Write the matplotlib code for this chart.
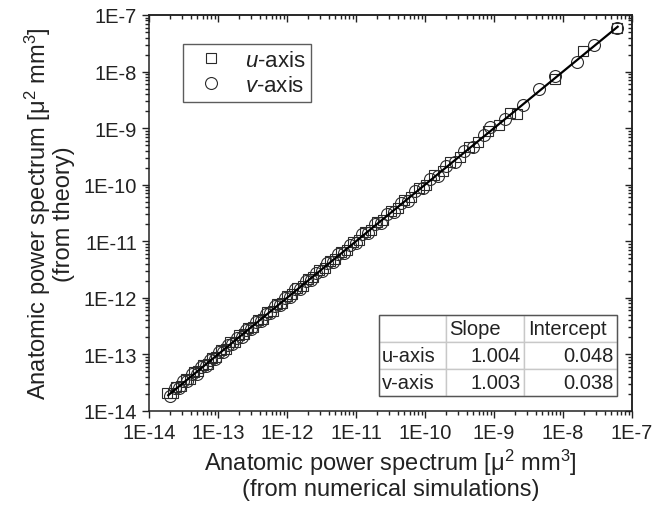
import matplotlib
matplotlib.use("Agg")
import matplotlib.pyplot as plt
from matplotlib.table import Table
from matplotlib.patches import Rectangle
from matplotlib.ticker import LogLocator, FixedLocator, FixedFormatter, NullFormatter

plt.rcParams['font.family'] = ['Liberation Sans', 'DejaVu Sans']
plt.rcParams['mathtext.fontset'] = 'custom'
plt.rcParams['mathtext.rm'] = 'Liberation Sans'
plt.rcParams['mathtext.it'] = 'Liberation Sans:italic'

# ---- data ----
u_sim = [1.8e-14, 2.2e-14, 2.5e-14, 2.95e-14, 3.4e-14, 3.9e-14, 4.5e-14, 5.2e-14, 6.0e-14, 7.1e-14,
         8.1e-14, 9.5e-14, 1.1e-13, 1.3e-13, 1.5e-13, 1.75e-13, 2.0e-13, 2.35e-13, 2.75e-13, 3.2e-13,
         3.8e-13, 4.5e-13, 5.2e-13, 6.2e-13, 7.2e-13, 8.5e-13, 1.0e-12, 1.2e-12, 1.4e-12, 1.7e-12,
         2.0e-12, 2.4e-12, 2.9e-12, 3.5e-12, 4.2e-12, 5.0e-12, 6.0e-12, 7.4e-12, 8.9e-12, 1.1e-11,
         1.35e-11, 1.65e-11, 2.0e-11, 2.5e-11, 3.2e-11, 4.0e-11, 5.0e-11, 6.3e-11, 8.1e-11, 1.05e-10,
         1.35e-10, 1.8e-10, 2.3e-10, 3.2e-10, 4.3e-10, 5.9e-10, 8.3e-10, 1.2e-9, 1.7e-9, 2.15e-9,
         7.6e-9, 1.95e-8, 6.0e-8]
u_theory = [2.05e-14, 2.1e-14, 2.7e-14, 2.8e-14, 3.7e-14, 3.7e-14, 4.9e-14, 5.0e-14, 6.5e-14, 6.8e-14,
            8.8e-14, 9.1e-14, 1.2e-13, 1.24e-13, 1.63e-13, 1.68e-13, 2.17e-13, 2.25e-13, 2.98e-13, 3.07e-13,
            4.1e-13, 4.3e-13, 5.65e-13, 5.95e-13, 7.8e-13, 8.2e-13, 1.08e-12, 1.15e-12, 1.52e-12, 1.63e-12,
            2.17e-12, 2.3e-12, 3.14e-12, 3.36e-12, 4.55e-12, 4.8e-12, 6.5e-12, 7.1e-12, 9.6e-12, 1.06e-11,
            1.46e-11, 1.58e-11, 2.17e-11, 2.4e-11, 3.46e-11, 3.84e-11, 5.4e-11, 6.05e-11, 8.75e-11, 1.0e-10,
            1.46e-10, 1.72e-10, 2.5e-10, 3.05e-10, 4.65e-10, 5.6e-10, 9.0e-10, 1.14e-9, 1.85e-9, 1.78e-9,
            7.4e-9, 2.3e-8, 5.9e-8]

v_sim = [2.0e-14, 2.35e-14, 2.75e-14, 3.15e-14, 3.6e-14, 4.2e-14, 4.9e-14, 5.6e-14, 6.6e-14, 7.6e-14,
         8.9e-14, 1.02e-13, 1.2e-13, 1.38e-13, 1.62e-13, 1.86e-13, 2.2e-13, 2.57e-13, 3.0e-13, 3.55e-13,
         4.2e-13, 4.9e-13, 5.75e-13, 6.8e-13, 7.9e-13, 9.3e-13, 1.1e-12, 1.32e-12, 1.55e-12, 1.86e-12,
         2.2e-12, 2.6e-12, 3.2e-12, 3.8e-12, 4.6e-12, 5.5e-12, 6.8e-12, 8.1e-12, 1.0e-11, 1.23e-11,
         1.5e-11, 1.86e-11, 2.3e-11, 2.8e-11, 3.55e-11, 4.5e-11, 5.6e-11, 7.2e-11, 9.3e-11, 1.2e-10,
         1.55e-10, 2.0e-10, 2.75e-10, 3.7e-10, 5.0e-10, 7.1e-10, 8.7e-10, 1.45e-9, 2.6e-9, 4.5e-9,
         7.6e-9, 1.6e-8, 2.8e-8, 6.0e-8]
v_theory = [1.87e-14, 2.5e-14, 2.57e-14, 3.37e-14, 3.35e-14, 4.5e-14, 4.55e-14, 6.0e-14, 6.15e-14, 8.1e-14,
            8.3e-14, 1.09e-13, 1.12e-13, 1.48e-13, 1.51e-13, 1.99e-13, 2.05e-13, 2.75e-13, 2.8e-13, 3.8e-13,
            3.9e-13, 5.25e-13, 5.35e-13, 7.3e-13, 7.35e-13, 9.95e-13, 1.02e-12, 1.41e-12, 1.44e-12, 1.99e-12,
            2.05e-12, 2.78e-12, 2.98e-12, 4.07e-12, 4.28e-12, 5.9e-12, 6.3e-12, 8.7e-12, 9.3e-12, 1.32e-11,
            1.4e-11, 1.99e-11, 2.14e-11, 3.0e-11, 3.3e-11, 4.8e-11, 5.2e-11, 7.7e-11, 8.65e-11, 1.28e-10,
            1.44e-10, 2.14e-10, 2.56e-10, 3.96e-10, 4.65e-10, 7.6e-10, 1.05e-9, 1.45e-9, 2.6e-9, 4.9e-9,
            8.3e-9, 1.5e-8, 2.95e-8, 5.9e-8]

fit_x = [1.9e-14, 6.2e-8]
fit_y = [1.9e-14, 6.2e-8]

tick_vals = [1e-14, 1e-13, 1e-12, 1e-11, 1e-10, 1e-9, 1e-8, 1e-7]
tick_labels = ["1E-14", "1E-13", "1E-12", "1E-11", "1E-10", "1E-9", "1E-8", "1E-7"]

table_cols = ["", "Slope", "Intercept"]
table_rows = ["u-axis", "v-axis"]
slopes = ["1.004", "1.003"]
intercepts = ["0.048", "0.038"]

# ---- figure ----
fig = plt.figure(figsize=(6.67, 5.06), dpi=100)
ax = fig.add_axes([0.2234, 0.1858, 0.7241, 0.7826])
ax.set_xscale('log')
ax.set_yscale('log')
ax.set_xlim(1e-14, 1e-7)
ax.set_ylim(1e-14, 1e-7)

mec = '#2a2a2a'
ax.plot(u_sim, u_theory, linestyle='none', marker='s', markersize=7.8, mfc='none',
        mec=mec, mew=0.8, label=r'$\mathit{u}$-axis', zorder=3)
ax.plot(v_sim, v_theory, linestyle='none', marker='o', markersize=8.6, mfc='none',
        mec=mec, mew=0.8, label=r'$\mathit{v}$-axis', zorder=3)
ax.plot(fit_x, fit_y, color='black', lw=1.6, zorder=4)

for a in (ax.xaxis, ax.yaxis):
    a.set_major_locator(FixedLocator(tick_vals))
    a.set_major_formatter(FixedFormatter(tick_labels))
    a.set_minor_locator(LogLocator(base=10, subs=range(2, 10), numticks=20))
    a.set_minor_formatter(NullFormatter())

ax.tick_params(which='both', direction='out', labelsize=14.5, colors='#222222', width=1.0)
ax.tick_params(which='major', length=5)
ax.tick_params(which='minor', length=3)
ax.tick_params(axis='x', pad=4)
for s in ax.spines.values():
    s.set_linewidth(1.1)
    s.set_color('#222222')

# mirrored inward ticks on top / right
axt = ax.secondary_xaxis('top')
axr = ax.secondary_yaxis('right')
for sa, a in ((axt, axt.xaxis), (axr, axr.yaxis)):
    a.set_major_locator(FixedLocator(tick_vals))
    a.set_minor_locator(LogLocator(base=10, subs=range(2, 10), numticks=20))
    a.set_major_formatter(NullFormatter())
    a.set_minor_formatter(NullFormatter())
    sa.tick_params(which='both', direction='in', width=1.0, colors='#222222')
    sa.tick_params(which='major', length=5)
    sa.tick_params(which='minor', length=3)
    for s in sa.spines.values():
        s.set_linewidth(1.1)
        s.set_color('#222222')

ax.set_xlabel('Anatomic power spectrum [μ$^2$ mm$^3$]\n(from numerical simulations)',
              fontsize=17, color='#222222', linespacing=1.05, labelpad=3)
ax.set_ylabel('Anatomic power spectrum [μ$^2$ mm$^3$]\n(from theory)',
              fontsize=17, color='#222222', linespacing=1.05, labelpad=6)

leg = ax.legend(loc='upper left', bbox_to_anchor=(0.0704, 0.9268), borderaxespad=0,
                fontsize=16, frameon=True, fancybox=False, edgecolor='#333333',
                handlelength=2.05, handletextpad=0.5, borderpad=0.25, labelspacing=0.2)
leg.get_frame().set_linewidth(1.0)
for t in leg.get_texts():
    t.set_color('#222222')

# ---- table ----
tb_left, tb_bottom, tb_w, tb_h = 0.4762, 0.0379, 0.4928, 0.2045
col_w = [67 / 238, 78 / 238, 93 / 238]
tbl = Table(ax, bbox=[tb_left, tb_bottom, tb_w, tb_h])
rows = [table_cols] + [[table_rows[i], slopes[i], intercepts[i]] for i in range(2)]
for r, row in enumerate(rows):
    for c, txt in enumerate(row):
        loc = 'left' if (r == 0 or c == 0) else 'right'
        cell = tbl.add_cell(r, c, width=col_w[c], height=1 / 3, text=txt, loc=loc,
                            edgecolor='#c8c8c8', facecolor='white')
        cell.PAD = 0.04
        cell.get_text().set_fontsize(14.5)
        cell.get_text().set_color('#222222')
tbl.auto_set_font_size(False)
tbl.set_zorder(5)
ax.add_table(tbl)
ax.add_patch(Rectangle((tb_left, tb_bottom), tb_w, tb_h, transform=ax.transAxes,
                       fill=False, edgecolor='#555555', lw=1.0, zorder=6))

fig.savefig('out.png', dpi=100)
